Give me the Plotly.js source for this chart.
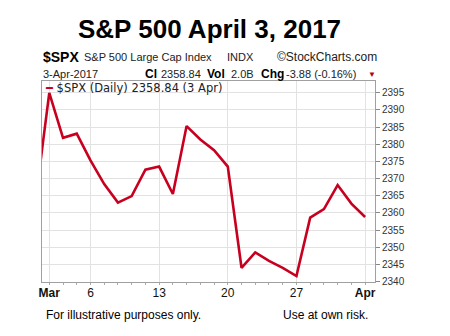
<!DOCTYPE html>
<html>
<head>
<meta charset="utf-8">
<script src="https://cdn.plot.ly/plotly-3.0.1.min.js"></script>
<style>html,body{margin:0;padding:0;background:#fff;}#chart{width:450px;height:336px;}</style>
</head>
<body>
<div id="chart"></div>
<script>
// Trading days (Feb 28 2017 – Apr 3 2017) and $SPX daily closes
const dates = ['Feb 28','Mar 1','Mar 2','Mar 3','Mar 6','Mar 7','Mar 8','Mar 9','Mar 10',
  'Mar 13','Mar 14','Mar 15','Mar 16','Mar 17','Mar 20','Mar 21','Mar 22','Mar 23','Mar 24',
  'Mar 27','Mar 28','Mar 29','Mar 30','Mar 31','Apr 3'];
const closes = [2363.6, 2395.0, 2381.9, 2383.1, 2375.3, 2368.4, 2363.0, 2364.9, 2372.6,
  2373.5, 2365.5, 2385.3, 2381.4, 2378.3, 2373.5, 2344.0, 2348.5, 2346.0, 2344.0,
  2341.6, 2358.6, 2361.1, 2368.1, 2362.7, 2358.8];
const tickDates = ['Mar 1','Mar 6','Mar 13','Mar 20','Mar 27','Apr 3'];
const tickLabels = ['<b>Mar</b>','6','13','20','27','<b>Apr</b>'];
const yTicks = [2340,2345,2350,2355,2360,2365,2370,2375,2380,2385,2390,2395];

const xIdx = dates.map((d,i)=>i);
const tickIdx = tickDates.map(d=>dates.indexOf(d));

const W=450,H=336,L=42,R=75,T=81,B=54;
const pw=W-L-R, ph=H-T-B;
const px=x=>(x-L)/pw, py=y=>(H-B-y)/ph;
const SANS='"Liberation Sans", Arial, sans-serif';
const VER='"DejaVu Sans", Verdana, sans-serif';
function ann(text,x,y,size,opts){
  return Object.assign({text:text,xref:'paper',yref:'paper',x:px(x),y:py(y),
    xanchor:'left',yanchor:'middle',showarrow:false,
    font:{family:SANS,size:size,color:'#000'}},opts||{});
}
const grey=s=>({family:SANS,size:s,color:'#222'});
const annotations=[
  ann('<b>S&P 500 April 3, 2017</b>',210,29,26,{xanchor:'center'}),
  ann('<b>$SPX</b>',41,57,14),
  ann('S&P 500 Large Cap Index',82,57,11,{font:grey(11)}),
  ann('INDX',225,57,11,{font:grey(11)}),
  ann('©StockCharts.com',275,57,12,{font:grey(12)}),
  ann('3-Apr-2017',41,74,11,{font:grey(11)}),
  ann('<b>Cl</b>',143,74,12),
  ann('2358.84',159,74,11,{font:grey(11)}),
  ann('<b>Vol</b>',205,74,12),
  ann('2.0B',229,74,11,{font:grey(11)}),
  ann('<b>Chg</b>',259,74,12),
  ann('-3.88 (-0.16%)',284,74,11,{font:grey(11)}),
  ann('▼',366,74,8,{font:{family:SANS,size:8,color:'#b00020'}}),
  ann('<span style="color:#c80020"><b>━</b></span> $SPX (Daily) 2358.84 (3 Apr)',43,88,11.5,
      {font:{family:VER,size:11.5,color:'#222'}}),
  ann('For illustrative purposes only.',44,315,12),
  ann('Use at own risk.',281,315,12)
];

const trace={x:xIdx,y:closes,type:'scatter',mode:'lines',
  line:{color:'#c80020',width:2.6},hoverinfo:'skip'};

const layout={
  width:W,height:H,margin:{l:L,r:R,t:T,b:B,pad:0},
  paper_bgcolor:'#fff',plot_bgcolor:'#fff',showlegend:false,
  xaxis:{range:[0.47,24.72],tickmode:'array',tickvals:tickIdx,ticktext:tickLabels,
    showgrid:true,gridcolor:'#e2e2e2',gridwidth:1,zeroline:false,
    showline:true,mirror:true,linecolor:'#a0a0a0',linewidth:1,
    ticks:'',tickfont:{family:SANS,size:12,color:'#111'},
    minor:{tickmode:'linear',tick0:0,dtick:1,ticks:'outside',ticklen:2,tickcolor:'#aaa',showgrid:false},
    fixedrange:true},
  yaxis:{range:[2339.85,2398.45],side:'right',tickmode:'array',tickvals:yTicks,
    showgrid:true,gridcolor:'#e2e2e2',gridwidth:1,zeroline:false,
    showline:true,mirror:true,linecolor:'#a0a0a0',linewidth:1,
    ticks:'outside',ticklen:4,tickcolor:'#888',
    tickfont:{family:SANS,size:10,color:'#333'},fixedrange:true},
  annotations:annotations
};
Plotly.newPlot('chart',[trace],layout,{staticPlot:true,displayModeBar:false});
</script>
</body>
</html>
